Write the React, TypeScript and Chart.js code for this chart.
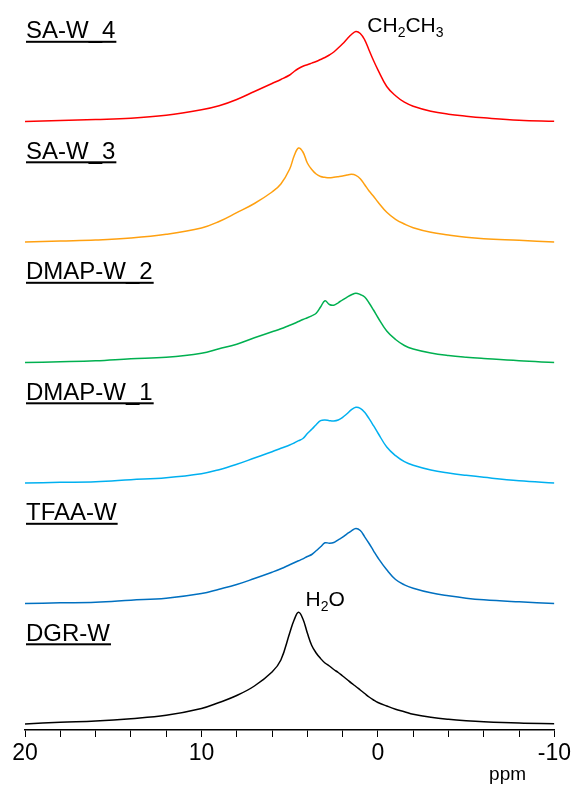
import { useEffect, useRef } from "react";
import { Chart, registerables } from "chart.js";

Chart.register(...registerables);

// Chemical shift grid (ppm), shared by every spectrum
const ppm = [
  20, 18, 16, 14, 12, 10, 9, 8, 7, 6, 5.5, 5, 4.75, 4.5, 4.25, 4, 3.75, 3.5, 3.25, 3,
  2.75, 2.5, 2.25, 2, 1.75, 1.5, 1.25, 1, 0.75, 0.5, 0.25, 0, -0.5, -1, -1.5, -2, -3, -4,
  -5, -6, -8, -10,
];

// 1H MAS NMR intensities (a.u.) at each ppm point
const saW4 = [
  0, 1, 2, 3.3, 6.3, 11.7, 15.7, 22, 30, 38, 42, 46.5, 50, 53, 55.3, 56.8, 58.4, 60, 62, 64,
  66.5, 69.5, 73.5, 77.7, 82.5, 87, 90, 88, 81.7, 71.3, 61, 51.7, 35, 25.7, 19.3, 15.3, 10.3, 7.3,
  5.3, 3.7, 1.3, 0.3,
];
const saW3 = [
  0, 1, 2, 4, 7.7, 14, 20.5, 29.3, 38.5, 50, 58, 73, 86, 94, 90, 79, 72.5, 68, 65.5, 64.7,
  64.3, 64.7, 65.3, 66, 67, 67.7, 66.7, 63.3, 57.3, 51, 45.7, 40, 29.7, 22.7, 18, 14.3, 9.7, 7,
  4.7, 3.3, 1.7, 0,
];
const dmapW2 = [
  0, 0.7, 1.7, 3.7, 5.3, 9.3, 13.7, 18.3, 24.7, 30.7, 33.7, 37.3, 39, 41, 43, 44.7, 46.7, 49.3, 55.5, 61.7,
  58, 57.3, 59.7, 62.7, 65.3, 67.7, 69.3, 68, 65.5, 59.5, 52.5, 45, 31.5, 23, 17, 13.5, 9.5, 7,
  5.3, 4, 1.7, 0,
];
const dmapW1 = [
  0, 0.7, 1.3, 3.3, 5.3, 9.3, 13.3, 18.7, 25, 31.3, 34.7, 38, 40, 42.3, 44.5, 49.5, 53.7, 58.3, 62.3, 63,
  62.3, 62, 63, 65.7, 69.3, 73.3, 75.7, 74.7, 70.7, 64.3, 57.3, 50, 36, 27.3, 21.3, 17.7, 13, 10,
  7.7, 5.7, 2.3, 0,
];
const tfaaW = [
  0, 0.7, 1.3, 3.3, 5.3, 10, 14.3, 19, 25, 31.3, 34.7, 38.7, 40.7, 42.7, 44.7, 47, 49, 52.7, 56.7, 60.7,
  60.3, 61, 63.7, 66.3, 69.7, 72.7, 75, 73, 66.7, 60, 52.7, 45.7, 33.7, 24, 18.7, 15.3, 10.7, 7.7,
  5.3, 3.7, 1.7, 0,
];
const dgrW = [
  0, 1.7, 3, 5.3, 8.7, 15.5, 21.5, 28.5, 38, 52, 64, 91, 104, 111.7, 105, 91, 78.5, 71, 65.5, 61,
  58, 54.5, 51.5, 48, 44.5, 40.8, 37.5, 34, 30.5, 27, 24, 21.5, 18, 14.8, 12.3, 9.7, 6.7, 4.7,
  3.3, 2.3, 1, 0.3,
];

const sampleNames = ["SA-W_4", "SA-W_3", "DMAP-W_2", "DMAP-W_1", "TFAA-W", "DGR-W"];
const sampleValues = [saW4, saW3, dmapW2, dmapW1, tfaaW, dgrW];
const sampleColors = ["#ff0000", "#ffa010", "#00b050", "#00b0f0", "#0070c0", "#000000"];

const majorTicks = [20, 10, 0, -10];

// vertical spacing between stacked traces, in intensity units
const STACK_STEP = 120.5;
const stackOffset = (i: number) => (sampleNames.length - 1 - i) * STACK_STEP;

const FONT = '"Liberation Sans", Arial, Helvetica, sans-serif';

type Part = [string, boolean];

function drawFormula(ctx: CanvasRenderingContext2D, parts: Part[], x0: number, y0: number) {
  let x = x0;
  for (const [txt, sub] of parts) {
    ctx.font = sub ? `14px ${FONT}` : `21px ${FONT}`;
    ctx.fillText(txt, x, sub ? y0 + 5.5 : y0);
    x += ctx.measureText(txt).width;
  }
}

const labelPlugin = {
  id: "spectrumLabels",
  afterDraw(chart: any) {
    const { ctx } = chart;
    const xs = chart.scales.x;
    const ys = chart.scales.y;
    ctx.save();
    ctx.fillStyle = "#000";
    ctx.textAlign = "left";
    ctx.textBaseline = "alphabetic";

    // underlined sample names above each trace
    sampleNames.forEach((name, i) => {
      const base = ys.getPixelForValue(stackOffset(i));
      const ty = base - 83.2;
      ctx.font = `24px ${FONT}`;
      ctx.fillText(name, 26, ty);
      const w = ctx.measureText(name).width;
      ctx.fillRect(26, ty + 2.5, w + 1, 2);
    });

    // peak assignments
    drawFormula(
      ctx,
      [["CH", false], ["2", true], ["CH", false], ["3", true]],
      xs.getPixelForValue(0.6),
      ys.getPixelForValue(stackOffset(0) + 90)
    );
    drawFormula(
      ctx,
      [["H", false], ["2", true], ["O", false]],
      xs.getPixelForValue(4.1),
      ys.getPixelForValue(stackOffset(5) + 118.3)
    );

    // axis unit
    ctx.font = `19px ${FONT}`;
    ctx.fillText("ppm", xs.getPixelForValue(-6.3), 780);
    ctx.restore();
  },
};

export default function App() {
  const canvasRef = useRef<HTMLCanvasElement | null>(null);

  useEffect(() => {
    const canvas = canvasRef.current;
    if (!canvas) return;

    const datasets = sampleNames.map((name, i) => ({
      label: name,
      data: ppm.map((p, k) => ({ x: p, y: sampleValues[i][k] + stackOffset(i) })),
      borderColor: sampleColors[i],
      borderWidth: 1.5,
      pointRadius: 0,
      fill: false,
      tension: 0.4,
    }));

    const chart = new Chart(canvas, {
      type: "line",
      data: { datasets },
      options: {
        animation: false,
        responsive: false,
        devicePixelRatio: 1,
        layout: { padding: { left: 25, right: 18, top: 0, bottom: 0 } },
        plugins: { legend: { display: false }, tooltip: { enabled: false } },
        scales: {
          x: {
            type: "linear",
            reverse: true,
            min: -10,
            max: 20,
            afterFit: (scale: any) => {
              scale.height = 57;
            },
            border: { display: true, color: "#000", width: 1.5 },
            grid: {
              display: true,
              drawOnChartArea: false,
              drawTicks: true,
              tickLength: 7,
              color: "#000",
              lineWidth: 1,
            },
            ticks: {
              stepSize: 2,
              autoSkip: false,
              maxRotation: 0,
              padding: 3,
              color: "#000",
              font: { family: FONT, size: 23 },
              callback: (v: any) => (majorTicks.includes(Number(v)) ? String(v) : ""),
            },
          },
          y: {
            type: "linear",
            display: false,
            min: -6,
            max: 724,
          },
        },
      },
      plugins: [labelPlugin],
    });

    return () => chart.destroy();
  }, []);

  return (
    <div style={{ position: "absolute", left: 0, top: 0, width: 574, height: 787, background: "#fff" }}>
      <canvas ref={canvasRef} width={574} height={787} style={{ display: "block" }} />
    </div>
  );
}
